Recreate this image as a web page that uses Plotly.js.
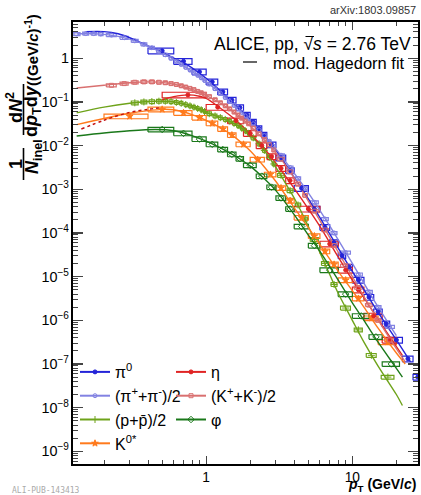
<!DOCTYPE html>
<html><head><meta charset="utf-8">
<script src="https://cdn.plot.ly/plotly-3.0.1.min.js"></script>
<style>body{margin:0;padding:0;background:#fff}#chart{width:421px;height:495px}</style>
</head><body><div id="chart"></div>
<script>
// ---------------- data ----------------
const pi0Edges=[0.4,0.6,0.8,1.0,1.2,1.4,1.6,1.8,2.0,2.2,2.4,2.6,3.0,3.5,4.0,5.0,6.0,7.0,8.0,9.0,10,12,14,16,18,22,26,30];
const pi0Yield=[1.48,0.851,0.490,0.288,0.170,0.110,0.0741,0.0501,0.0347,0.0245,0.0174,0.0105,0.00525,0.00269,0.00105,3.55e-4,1.35e-4,6.03e-5,3.02e-5,1.66e-5,8.32e-6,3.39e-6,1.58e-6,8.32e-7,3.55e-7,1.32e-7,5.01e-8];

const piChEdges=[0.1,0.12,0.14,0.16,0.18,0.2,0.25,0.3,0.35,0.4,0.45,0.5,0.55,0.6,0.65,0.7,0.75,0.8,0.85,0.9,0.95,1.0,1.1,1.2,1.3,1.4,1.5,1.6,1.7,1.8,1.9,2.0,2.2,2.4,2.6,2.8,3.0,3.5,4.0,4.5,5.0,6.0,7.0,8.0,10,12,14,16,20];
const piChYield=[3.39,3.59,3.67,3.67,3.59,3.39,2.95,2.51,2.09,1.74,1.45,1.20,1.00,0.851,0.724,0.617,0.537,0.468,0.407,0.355,0.309,0.257,0.200,0.158,0.126,0.102,0.0832,0.0692,0.0575,0.0479,0.0407,0.0316,0.0229,0.0170,0.0126,0.00955,0.00603,0.00316,0.00178,0.00105,5.01e-4,2.09e-4,1.0e-4,3.55e-5,1.12e-5,4.47e-6,2.0e-6,7.08e-7];

const protonEdges=[0.3,0.35,0.4,0.45,0.5,0.55,0.6,0.65,0.7,0.75,0.8,0.85,0.9,0.95,1.0,1.1,1.2,1.3,1.4,1.5,1.6,1.7,1.8,1.9,2.0,2.2,2.4,2.6,2.8,3.0,3.5,4.0,4.5,5.0,6.0,7.0,8.0,10,12,15,20];
const protonYield=[0.0955,0.100,0.102,0.104,0.104,0.102,0.0977,0.0933,0.0871,0.0813,0.0759,0.0708,0.0661,0.0603,0.0537,0.0479,0.0437,0.0398,0.0363,0.0324,0.0288,0.0251,0.0219,0.0191,0.0151,0.011,0.00776,0.00537,0.0038,0.00209,9.33e-4,4.37e-4,2.09e-4,7.08e-5,2.0e-5,6.61e-6,1.91e-6,6.03e-7,1.58e-7,5.01e-8];

const k0sEdges=[0.2,0.4,0.6,0.8,1.0,1.2,1.4,1.6,2.0,2.5,3.0,3.5,4.0,5.0,6.0,7.0,8.0,10,12,15,20];
const k0sYield=[0.0468,0.0676,0.0562,0.0437,0.0324,0.0240,0.0174,0.0107,0.00479,0.00219,0.00107,5.5e-4,2.24e-4,8.51e-5,3.8e-5,1.91e-5,8.32e-6,3.16e-6,1.12e-6,3.16e-7];

const etaEdges=[0.5,1.0,1.4,1.8,2.2,2.6,3.0,3.5,4.0,6.0,8.0,10,12,16,20];
const etaYield=[0.145,0.0759,0.0372,0.0191,0.0100,0.00562,0.00302,0.00158,3.55e-4,5.62e-5,1.41e-5,5.01e-6,1.26e-6,3.55e-7];

const kChEdges=[0.2,0.25,0.3,0.35,0.4,0.45,0.5,0.55,0.6,0.65,0.7,0.75,0.8,0.85,0.9,0.95,1.0,1.1,1.2,1.3,1.4,1.5,1.6,1.7,1.8,1.9,2.0,2.2,2.4,2.6,2.8,3.0,3.5,4.0,4.5,5.0,6.0,7.0,8.0,10,12,14,16,20];
const kChYield=[0.240,0.263,0.282,0.288,0.288,0.282,0.275,0.263,0.251,0.234,0.219,0.204,0.191,0.174,0.162,0.148,0.132,0.112,0.0955,0.0813,0.0692,0.0589,0.0501,0.0427,0.0363,0.0316,0.0251,0.0186,0.0138,0.0105,0.00794,0.0049,0.00251,0.00132,7.24e-4,3.16e-4,1.17e-4,5.13e-5,1.78e-5,5.62e-6,2.24e-6,1.0e-6,3.55e-7];

const phiEdges=[0.4,0.6,0.8,1.0,1.2,1.4,1.6,1.8,2.2,2.6,3.0,3.5,4.0,5.0,6.0,8.0,10,13,16,21];
const phiYield=[0.0234,0.0191,0.0141,0.0107,0.00813,0.00631,0.00501,0.00355,0.002,0.00112,6.31e-4,3.55e-4,1.41e-4,5.13e-5,1.41e-5,3.98e-6,1.26e-6,4.17e-7,1.0e-7];

// relative systematic uncertainties (box half heights)
const pi0Sys=0.15, piChSys=0.08, protonSys=0.10, k0sSys=0.12, etaSys=0.15, kChSys=0.08, phiSys=0.12;

// modified Hagedorn fit curves
const pi0FitPt=[0.15,0.2,0.25,0.3,0.4,0.5,0.6,0.7,0.8,1.0,1.2,1.5,2.0,2.5,3.0,4.0,5.0,6.0,8.0,10,12,15,20,25];
const pi0FitY=[4.07,4.07,3.63,2.95,1.91,1.38,1.0,0.794,0.603,0.347,0.204,0.102,0.0398,0.0170,0.00794,0.00186,6.03e-4,2.24e-4,4.47e-5,1.32e-5,5.01e-6,1.51e-6,3.55e-7,1.12e-7];
const piChFitPt=[0.13,0.17,0.25,0.35,0.5,0.7,1.0,1.5,2.0,3.0,4.0,5.0,7.0,10,14,20];
const piChFitY=[3.59,3.67,3.16,2.29,1.32,0.668,0.292,0.0933,0.0372,0.00832,0.00234,8.32e-4,1.45e-4,2.0e-5,2.95e-6,4.47e-7];
const protonFitPt=[0.13,0.2,0.3,0.4,0.5,0.6,0.8,1.0,1.4,1.7,2.0,2.5,3.0,3.5,4.0,5.0,6.0,7.0,8.0,10,12,15,20,22];
const protonFitY=[0.0562,0.0759,0.0933,0.102,0.104,0.1,0.0794,0.0575,0.038,0.0269,0.0174,0.00759,0.00316,0.00135,6.31e-4,1.41e-4,3.55e-5,1.12e-5,4.17e-6,1.0e-6,3.16e-7,8.91e-8,2.0e-8,1.12e-8];
const k0sFitPt=[0.13,0.2,0.3,0.4,0.5,0.6,0.8,1.0,1.3,1.6,2.0,2.5,3.0,4.0,5.0,6.0,8.0,10,12,15,20,23];
const k0sFitY=[0.0302,0.0417,0.055,0.0631,0.0676,0.0661,0.0513,0.038,0.024,0.0148,0.00759,0.00324,0.00151,3.8e-4,1.32e-4,5.37e-5,1.32e-5,4.79e-6,2.0e-6,6.61e-7,1.78e-7,1.0e-7];
const etaFitPt=[0.5,0.6,0.75,0.9,1.0,1.2,1.6,2.0,2.5,3.0,4.0,5.0,6.0,8.0,10,12,15,20,22];
const etaFitY=[0.112,0.132,0.145,0.135,0.120,0.0794,0.038,0.0186,0.00851,0.00398,0.00105,3.55e-4,1.41e-4,2.82e-5,8.32e-6,3.31e-6,1.05e-6,2.51e-7,1.58e-7];
const etaExtPt=[0.14,0.2,0.29,0.4,0.5];
const etaExtY=[0.024,0.038,0.0562,0.0676,0.0741];
const kChFitPt=[0.13,0.2,0.3,0.4,0.55,0.7,1.0,1.5,2.0,3.0,4.0,5.0,7.0,10,14,20,23];
const kChFitY=[0.209,0.240,0.275,0.288,0.269,0.226,0.141,0.0631,0.0282,0.00692,0.00182,5.37e-4,7.94e-5,1.0e-5,1.48e-6,2.24e-7,1.12e-7];
const phiFitPt=[0.13,0.2,0.3,0.45,0.6,0.8,1.0,1.3,1.6,2.0,2.5,3.0,4.0,5.0,6.0,8.0,10,12,15,20,22];
const phiFitY=[0.0166,0.0195,0.0219,0.0234,0.0219,0.017,0.0126,0.00832,0.00562,0.00339,0.00174,9.33e-4,2.63e-4,8.91e-5,3.8e-5,8.32e-6,2.51e-6,1.0e-6,3.16e-7,7.94e-8,5.01e-8];

const names=['π<sup>0</sup>','(π<sup>+</sup>+π<sup>-</sup>)/2','(p+p̄)/2','K<sup>0*</sup>','η','(K<sup>+</sup>+K<sup>-</sup>)/2','φ'];

// ---------------- helpers ----------------
function centers(e){const c=[];for(let i=0;i<e.length-1;i++)c.push((e[i]+e[i+1])/2);return c;}
function gapped(xs,ys){const gx=[],gy=[];xs.forEach((x,i)=>{gx.push(x,null);gy.push(ys[i],null);});return {x:gx,y:gy};}
function boxes(e,v,rel,wf){const bx=[],by=[];v.forEach((val,i)=>{const c=(e[i]+e[i+1])/2,h=(e[i+1]-e[i])/2*wf;const lo=c-h,hi=c+h,a=val*(1-rel),b=val*(1+rel);bx.push(lo,hi,hi,lo,lo,null);by.push(a,a,b,b,a,null);});return {x:bx,y:by};}

const species=[
 {name:names[0],e:pi0Edges,v:pi0Yield,s:pi0Sys,fx:pi0FitPt,fy:pi0FitY,col:'#2424d8',sym:'circle',ms:4,wf:1,leg:'legend'},
 {name:names[1],e:piChEdges,v:piChYield,s:piChSys,fx:piChFitPt,fy:piChFitY,col:'#8282e2',sym:'circle-open',ms:4,wf:0.7,leg:'legend'},
 {name:names[2],e:protonEdges,v:protonYield,s:protonSys,fx:protonFitPt,fy:protonFitY,col:'#6ea31a',sym:'cross-thin-open',ms:5,wf:0.7,leg:'legend'},
 {name:names[3],e:k0sEdges,v:k0sYield,s:k0sSys,fx:k0sFitPt,fy:k0sFitY,col:'#ff7a1c',sym:'star',ms:5,wf:1,leg:'legend'},
 {name:names[4],e:etaEdges,v:etaYield,s:etaSys,fx:etaFitPt,fy:etaFitY,col:'#e02424',sym:'circle',ms:4,wf:1,leg:'legend2'},
 {name:names[5],e:kChEdges,v:kChYield,s:kChSys,fx:kChFitPt,fy:kChFitY,col:'#d97070',sym:'square-open',ms:4,wf:0.7,leg:'legend2'},
 {name:names[6],e:phiEdges,v:phiYield,s:phiSys,fx:phiFitPt,fy:phiFitY,col:'#1a781a',sym:'diamond-open',ms:5,wf:1,leg:'legend2'}
];

const traces=[];
species.forEach(sp=>{const b=boxes(sp.e,sp.v,sp.s,sp.wf);
 traces.push({x:b.x,y:b.y,mode:'lines',line:{color:sp.col,width:1.2},showlegend:false,hoverinfo:'skip',connectgaps:false});});
species.forEach(sp=>{
 traces.push({x:sp.fx,y:sp.fy,mode:'lines',line:{color:sp.col,width:1.4,shape:'spline',smoothing:0.8},showlegend:false,hoverinfo:'skip'});});
traces.push({x:etaExtPt,y:etaExtY,mode:'lines',line:{color:'#c41010',width:1.4,dash:'dot',shape:'spline'},showlegend:false,hoverinfo:'skip'});
species.forEach(sp=>{const g=gapped(centers(sp.e),sp.v);
 traces.push({x:g.x,y:g.y,mode:'lines+markers',connectgaps:false,name:sp.name,legend:sp.leg,
  line:{color:sp.col,width:2},marker:{symbol:sp.sym,size:sp.ms,color:sp.col,line:{color:sp.col,width:1}},hoverinfo:'skip'});});

const F='Liberation Sans, Arial, Helvetica, sans-serif';
const W=345,H=442,L=73,T=22;
function px(x){return (x-L)/W;} function py(y){return (T+H-y)/H;}
function rot(text,x,y,size){return {text:text,xref:'paper',yref:'paper',x:px(x),y:py(y),textangle:-90,xanchor:'center',yanchor:'middle',showarrow:false,font:{size:size}};}

const layout={
 width:421,height:495,margin:{l:L,r:3,t:T,b:31},paper_bgcolor:'#fff',plot_bgcolor:'#fff',
 font:{family:F,color:'#000',size:12},showlegend:true,
 xaxis:{type:'log',range:[-0.911,1.449],dtick:1,exponentformat:'power',ticks:'inside',ticklen:8,tickwidth:1.3,
  showline:true,linewidth:1.8,linecolor:'#000',mirror:'allticks',showgrid:false,zeroline:false,
  tickfont:{size:11,family:F},minor:{ticks:'inside',ticklen:4,tickwidth:1,dtick:'D1',showgrid:false}},
 yaxis:{type:'log',range:[-9.29,0.83],dtick:1,exponentformat:'power',ticks:'inside',ticklen:10,tickwidth:1.3,
  showline:true,linewidth:1.8,linecolor:'#000',mirror:'allticks',showgrid:false,zeroline:false,
  tickfont:{size:11.5,family:F},minor:{ticks:'inside',ticklen:5,tickwidth:1,dtick:'D1',showgrid:false}},
 legend:{x:px(75),y:py(355),xanchor:'left',yanchor:'top',bgcolor:'rgba(0,0,0,0)',font:{size:16,family:F}},
 legend2:{x:px(171),y:py(355),xanchor:'left',yanchor:'top',bgcolor:'rgba(0,0,0,0)',font:{size:16,family:F}},
 shapes:[
  {type:'line',xref:'paper',yref:'paper',x0:px(23.5),x1:px(23.5),y0:py(148),y1:py(180),line:{color:'#000',width:1.6}},
  {type:'line',xref:'paper',yref:'paper',x0:px(23.5),x1:px(23.5),y0:py(84),y1:py(135),line:{color:'#000',width:1.6}},
  {type:'line',xref:'paper',yref:'paper',x0:px(243),x1:px(257),y0:py(62),y1:py(62),line:{color:'#000',width:1.2}},
  {type:'line',xref:'paper',yref:'paper',x0:px(305.5),x1:px(314),y0:py(36.5),y1:py(36.5),line:{color:'#000',width:1}}
 ],
 annotations:[
  {text:'arXiv:1803.09857',xref:'paper',yref:'paper',x:px(418),y:py(10),xanchor:'right',yanchor:'middle',showarrow:false,font:{size:11,color:'#333'}},
  {text:'ALICE, pp, √<i>s</i> = 2.76 TeV',xref:'paper',yref:'paper',x:px(413),y:py(44),xanchor:'right',yanchor:'middle',showarrow:false,font:{size:17.5}},
  {text:'mod. Hagedorn fit',xref:'paper',yref:'paper',x:px(407),y:py(63),xanchor:'right',yanchor:'middle',showarrow:false,font:{size:16.5}},
  {text:'<b><i>p</i><sub>T</sub> (GeV/<i>c</i>)</b>',xref:'paper',yref:'paper',x:px(418),y:py(485),xanchor:'right',yanchor:'middle',showarrow:false,font:{size:14}},
  {text:'ALI-PUB-143413',xref:'paper',yref:'paper',x:px(10),y:py(490),xanchor:'left',yanchor:'middle',showarrow:false,font:{size:8,color:'#aaa',family:'DejaVu Sans Mono, monospace'}},
  rot('<b>1</b>',16,164,18),
  rot('<b><i>N</i><sub>inel</sub></b>',33,157,18),
  rot('<b>d<i>N</i><sup>2</sup></b>',15,108,18),
  rot('<b>d<i>p</i><sub>T</sub>d<i>y</i></b>',33,111,18),
  rot('<b>((GeV/<i>c</i>)<sup>-1</sup>)</b>',31,50,15)
 ]
};
Plotly.newPlot('chart',traces,layout,{displayModeBar:false,staticPlot:true});
</script></body></html>
